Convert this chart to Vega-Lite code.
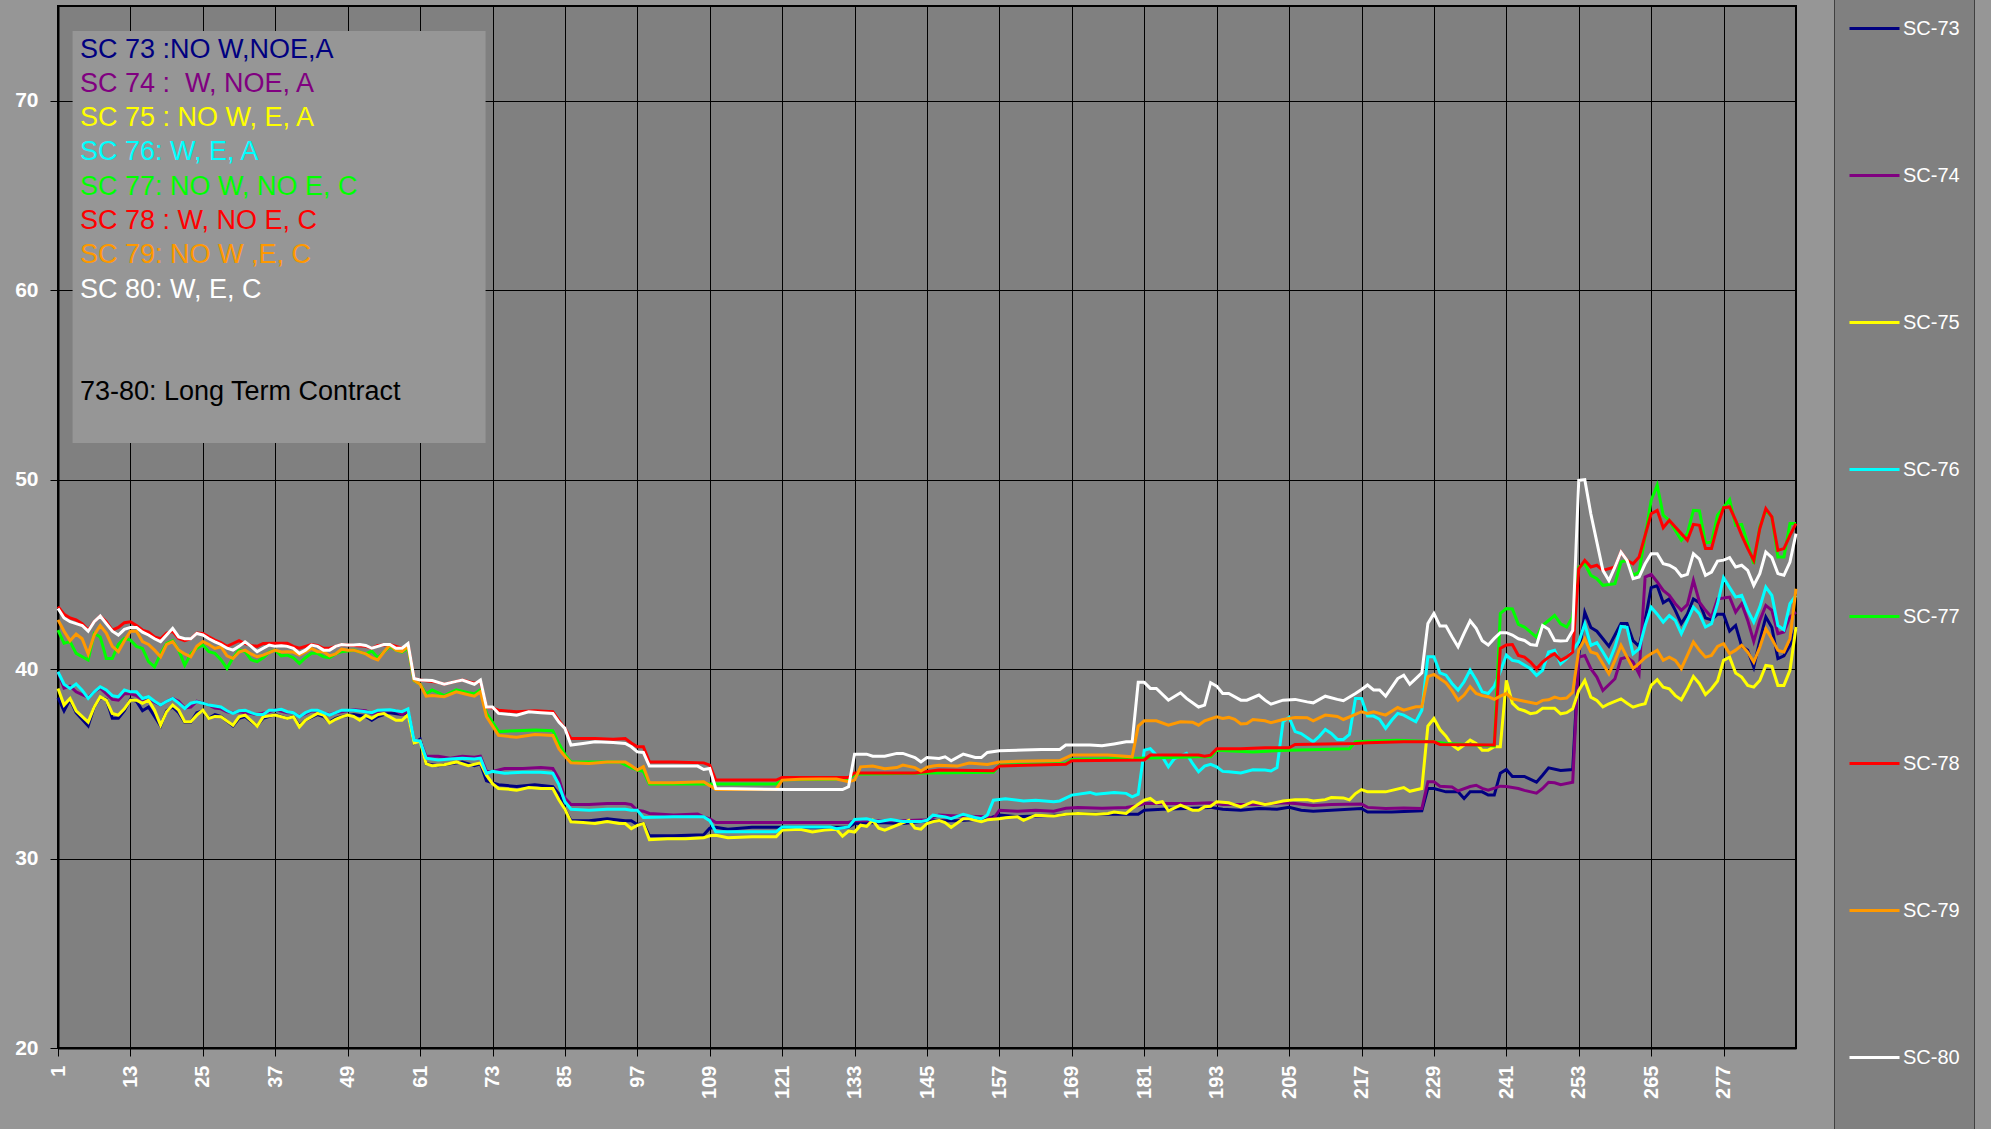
{
"$schema":"https://vega.github.io/schema/vega-lite/v6.json",
"width":1738,"height":1042,
"autosize":"none",
"padding":{"left":58,"top":6,"right":195,"bottom":81},
"background":"#969696",
"config":{
 "view":{"fill":"#808080","stroke":"#000000","strokeWidth":2},
 "font":"Liberation Sans",
 "axis":{"gridColor":"#000000","gridOpacity":1,"gridWidth":1,"tickColor":"#000000","tickSize":8,"tickWidth":1,"domainColor":"#000000","domainWidth":2,"labelColor":"#ffffff","labelFont":"Liberation Sans","labelFontWeight":"bold","labelFontSize":20}
},
"datasets":{
"notes":[
{"s":73,"t":"SC 73 :NO W,NOE,A","y":72.7},
{"s":74,"t":"SC 74 : \u00a0W, NOE, A","y":70.89},
{"s":75,"t":"SC 75 : NO W, E, A","y":69.08},
{"s":76,"t":"SC 76: W, E, A","y":67.27},
{"s":77,"t":"SC 77: NO W, NO E, C","y":65.46},
{"s":78,"t":"SC 78 : W, NO E, C","y":63.65},
{"s":79,"t":"SC 79: NO W ,E, C","y":61.84},
{"s":80,"t":"SC 80: W, E, C","y":60.03}
],
"series":[
{"s":73,"x":1,"y":38.5},{"s":73,"x":2,"y":37.8},{"s":73,"x":3,"y":38.4},{"s":73,"x":4,"y":37.7},{"s":73,"x":6,"y":37.0},{"s":73,"x":7,"y":38.0},{"s":73,"x":8,"y":38.5},{"s":73,"x":9,"y":38.4},{"s":73,"x":10,"y":37.4},{"s":73,"x":11,"y":37.4},{"s":73,"x":12,"y":37.8},{"s":73,"x":13,"y":38.4},{"s":73,"x":14,"y":38.3},{"s":73,"x":15,"y":37.8},{"s":73,"x":16,"y":38.0},{"s":73,"x":18,"y":37.0},{"s":73,"x":19,"y":37.8},{"s":73,"x":20,"y":38.0},{"s":73,"x":21,"y":37.7},{"s":73,"x":22,"y":37.2},{"s":73,"x":23,"y":37.2},{"s":73,"x":24,"y":37.7},{"s":73,"x":25,"y":37.8},{"s":73,"x":26,"y":37.4},{"s":73,"x":27,"y":37.6},{"s":73,"x":28,"y":37.5},{"s":73,"x":30,"y":37.0},{"s":73,"x":31,"y":37.4},{"s":73,"x":32,"y":37.5},{"s":73,"x":34,"y":37.0},{"s":73,"x":35,"y":37.4},{"s":73,"x":37,"y":37.6},{"s":73,"x":39,"y":37.4},{"s":73,"x":40,"y":37.5},{"s":73,"x":41,"y":37.0},{"s":73,"x":42,"y":37.3},{"s":73,"x":44,"y":37.6},{"s":73,"x":45,"y":37.5},{"s":73,"x":46,"y":37.2},{"s":73,"x":47,"y":37.4},{"s":73,"x":48,"y":37.5},{"s":73,"x":50,"y":37.6},{"s":73,"x":52,"y":37.5},{"s":73,"x":53,"y":37.3},{"s":73,"x":54,"y":37.5},{"s":73,"x":56,"y":37.7},{"s":73,"x":58,"y":37.6},{"s":73,"x":59,"y":37.7},{"s":73,"x":60,"y":36.1},{"s":73,"x":61,"y":36.3},{"s":73,"x":62,"y":35.0},{"s":73,"x":64,"y":34.9},{"s":73,"x":66,"y":35.0},{"s":73,"x":68,"y":35.1},{"s":73,"x":70,"y":34.9},{"s":73,"x":71,"y":35.0},{"s":73,"x":72,"y":34.1},{"s":73,"x":74,"y":33.9},{"s":73,"x":77,"y":33.8},{"s":73,"x":80,"y":33.9},{"s":73,"x":83,"y":33.8},{"s":73,"x":84,"y":33.4},{"s":73,"x":85,"y":32.6},{"s":73,"x":86,"y":32.0},{"s":73,"x":89,"y":32.0},{"s":73,"x":92,"y":32.1},{"s":73,"x":95,"y":32.0},{"s":73,"x":96,"y":32.0},{"s":73,"x":97,"y":31.8},{"s":73,"x":98,"y":31.85},{"s":73,"x":99,"y":31.2},{"s":73,"x":103,"y":31.2},{"s":73,"x":108,"y":31.25},{"s":73,"x":109,"y":31.6},{"s":73,"x":110,"y":31.65},{"s":73,"x":112,"y":31.55},{"s":73,"x":116,"y":31.65},{"s":73,"x":132,"y":31.65},{"s":73,"x":133,"y":31.85},{"s":73,"x":137,"y":31.9},{"s":73,"x":141,"y":31.85},{"s":73,"x":145,"y":32.0},{"s":73,"x":150,"y":32.0},{"s":73,"x":155,"y":32.1},{"s":73,"x":157,"y":32.3},{"s":73,"x":160,"y":32.2},{"s":73,"x":163,"y":32.25},{"s":73,"x":167,"y":32.3},{"s":73,"x":170,"y":32.38},{"s":73,"x":175,"y":32.34},{"s":73,"x":180,"y":32.34},{"s":73,"x":181,"y":32.55},{"s":73,"x":184,"y":32.6},{"s":73,"x":188,"y":32.64},{"s":73,"x":192,"y":32.7},{"s":73,"x":194,"y":32.6},{"s":73,"x":197,"y":32.55},{"s":73,"x":200,"y":32.64},{"s":73,"x":203,"y":32.6},{"s":73,"x":205,"y":32.7},{"s":73,"x":207,"y":32.55},{"s":73,"x":209,"y":32.5},{"s":73,"x":212,"y":32.55},{"s":73,"x":217,"y":32.64},{"s":73,"x":218,"y":32.46},{"s":73,"x":222,"y":32.46},{"s":73,"x":227,"y":32.52},{"s":73,"x":228,"y":33.7},{"s":73,"x":229,"y":33.7},{"s":73,"x":231,"y":33.52},{"s":73,"x":233,"y":33.52},{"s":73,"x":234,"y":33.17},{"s":73,"x":235,"y":33.52},{"s":73,"x":237,"y":33.52},{"s":73,"x":238,"y":33.35},{"s":73,"x":239,"y":33.35},{"s":73,"x":240,"y":34.5},{"s":73,"x":241,"y":34.7},{"s":73,"x":242,"y":34.33},{"s":73,"x":244,"y":34.33},{"s":73,"x":246,"y":34.03},{"s":73,"x":247,"y":34.4},{"s":73,"x":248,"y":34.79},{"s":73,"x":250,"y":34.65},{"s":73,"x":252,"y":34.7},{"s":73,"x":253,"y":40.7},{"s":73,"x":254,"y":43.0},{"s":73,"x":255,"y":42.2},{"s":73,"x":256,"y":42.0},{"s":73,"x":257,"y":41.6},{"s":73,"x":258,"y":41.2},{"s":73,"x":259,"y":41.8},{"s":73,"x":260,"y":42.4},{"s":73,"x":261,"y":42.4},{"s":73,"x":262,"y":41.5},{"s":73,"x":263,"y":41.2},{"s":73,"x":264,"y":42.6},{"s":73,"x":265,"y":44.3},{"s":73,"x":266,"y":44.4},{"s":73,"x":267,"y":43.5},{"s":73,"x":268,"y":43.7},{"s":73,"x":269,"y":43.1},{"s":73,"x":270,"y":42.4},{"s":73,"x":271,"y":42.9},{"s":73,"x":272,"y":43.7},{"s":73,"x":273,"y":43.5},{"s":73,"x":274,"y":42.7},{"s":73,"x":275,"y":42.6},{"s":73,"x":276,"y":42.9},{"s":73,"x":277,"y":42.9},{"s":73,"x":278,"y":42.0},{"s":73,"x":279,"y":42.3},{"s":73,"x":280,"y":41.2},{"s":73,"x":281,"y":41.0},{"s":73,"x":282,"y":40.1},{"s":73,"x":283,"y":41.5},{"s":73,"x":284,"y":42.75},{"s":73,"x":285,"y":42.2},{"s":73,"x":286,"y":40.55},{"s":73,"x":287,"y":40.7},{"s":73,"x":288,"y":41.25},{"s":73,"x":289,"y":42.2},
{"s":74,"x":1,"y":39.86},{"s":74,"x":2,"y":39.0},{"s":74,"x":3,"y":39.1},{"s":74,"x":4,"y":38.8},{"s":74,"x":6,"y":38.5},{"s":74,"x":7,"y":38.8},{"s":74,"x":8,"y":39.0},{"s":74,"x":9,"y":38.7},{"s":74,"x":10,"y":38.4},{"s":74,"x":11,"y":38.36},{"s":74,"x":12,"y":38.7},{"s":74,"x":13,"y":38.7},{"s":74,"x":14,"y":38.6},{"s":74,"x":15,"y":38.4},{"s":74,"x":16,"y":38.4},{"s":74,"x":18,"y":38.1},{"s":74,"x":19,"y":38.3},{"s":74,"x":20,"y":38.45},{"s":74,"x":21,"y":38.3},{"s":74,"x":22,"y":37.95},{"s":74,"x":23,"y":38.0},{"s":74,"x":24,"y":38.3},{"s":74,"x":25,"y":38.2},{"s":74,"x":26,"y":38.1},{"s":74,"x":27,"y":37.95},{"s":74,"x":28,"y":37.9},{"s":74,"x":29,"y":37.75},{"s":74,"x":30,"y":37.7},{"s":74,"x":31,"y":37.75},{"s":74,"x":33,"y":37.65},{"s":74,"x":34,"y":37.6},{"s":74,"x":36,"y":37.75},{"s":74,"x":37,"y":37.85},{"s":74,"x":39,"y":37.7},{"s":74,"x":40,"y":37.7},{"s":74,"x":41,"y":37.5},{"s":74,"x":43,"y":37.8},{"s":74,"x":44,"y":37.75},{"s":74,"x":46,"y":37.6},{"s":74,"x":47,"y":37.7},{"s":74,"x":49,"y":37.8},{"s":74,"x":50,"y":37.85},{"s":74,"x":52,"y":37.8},{"s":74,"x":53,"y":37.65},{"s":74,"x":55,"y":37.8},{"s":74,"x":57,"y":37.8},{"s":74,"x":58,"y":37.6},{"s":74,"x":59,"y":37.8},{"s":74,"x":60,"y":36.25},{"s":74,"x":61,"y":36.2},{"s":74,"x":62,"y":35.4},{"s":74,"x":64,"y":35.4},{"s":74,"x":66,"y":35.3},{"s":74,"x":68,"y":35.4},{"s":74,"x":70,"y":35.35},{"s":74,"x":71,"y":35.4},{"s":74,"x":72,"y":34.6},{"s":74,"x":73,"y":34.6},{"s":74,"x":75,"y":34.75},{"s":74,"x":78,"y":34.75},{"s":74,"x":81,"y":34.8},{"s":74,"x":83,"y":34.75},{"s":74,"x":84,"y":34.2},{"s":74,"x":85,"y":33.2},{"s":74,"x":86,"y":32.85},{"s":74,"x":89,"y":32.85},{"s":74,"x":92,"y":32.9},{"s":74,"x":95,"y":32.9},{"s":74,"x":96,"y":32.85},{"s":74,"x":97,"y":32.55},{"s":74,"x":98,"y":32.5},{"s":74,"x":99,"y":32.38},{"s":74,"x":103,"y":32.3},{"s":74,"x":107,"y":32.35},{"s":74,"x":108,"y":32.2},{"s":74,"x":109,"y":32.1},{"s":74,"x":110,"y":31.9},{"s":74,"x":132,"y":31.9},{"s":74,"x":133,"y":32.0},{"s":74,"x":141,"y":32.0},{"s":74,"x":145,"y":32.05},{"s":74,"x":147,"y":32.3},{"s":74,"x":150,"y":32.25},{"s":74,"x":155,"y":32.2},{"s":74,"x":156,"y":32.1},{"s":74,"x":157,"y":32.55},{"s":74,"x":160,"y":32.5},{"s":74,"x":163,"y":32.55},{"s":74,"x":166,"y":32.5},{"s":74,"x":168,"y":32.65},{"s":74,"x":170,"y":32.7},{"s":74,"x":174,"y":32.65},{"s":74,"x":178,"y":32.7},{"s":74,"x":180,"y":32.8},{"s":74,"x":181,"y":32.9},{"s":74,"x":185,"y":32.9},{"s":74,"x":189,"y":32.9},{"s":74,"x":192,"y":32.95},{"s":74,"x":194,"y":32.85},{"s":74,"x":197,"y":32.85},{"s":74,"x":200,"y":32.85},{"s":74,"x":204,"y":32.95},{"s":74,"x":206,"y":32.9},{"s":74,"x":209,"y":32.8},{"s":74,"x":212,"y":32.85},{"s":74,"x":217,"y":32.88},{"s":74,"x":218,"y":32.7},{"s":74,"x":221,"y":32.64},{"s":74,"x":224,"y":32.67},{"s":74,"x":227,"y":32.64},{"s":74,"x":228,"y":34.05},{"s":74,"x":229,"y":34.05},{"s":74,"x":230,"y":33.82},{"s":74,"x":232,"y":33.78},{"s":74,"x":233,"y":33.57},{"s":74,"x":235,"y":33.8},{"s":74,"x":236,"y":33.87},{"s":74,"x":237,"y":33.7},{"s":74,"x":238,"y":33.61},{"s":74,"x":240,"y":33.82},{"s":74,"x":241,"y":33.8},{"s":74,"x":243,"y":33.7},{"s":74,"x":244,"y":33.6},{"s":74,"x":246,"y":33.45},{"s":74,"x":247,"y":33.7},{"s":74,"x":248,"y":34.03},{"s":74,"x":249,"y":34.0},{"s":74,"x":250,"y":33.9},{"s":74,"x":252,"y":34.03},{"s":74,"x":253,"y":40.63},{"s":74,"x":254,"y":40.72},{"s":74,"x":255,"y":40.02},{"s":74,"x":256,"y":39.58},{"s":74,"x":257,"y":38.87},{"s":74,"x":259,"y":39.49},{"s":74,"x":260,"y":40.55},{"s":74,"x":261,"y":40.63},{"s":74,"x":262,"y":40.37},{"s":74,"x":263,"y":39.74},{"s":74,"x":264,"y":44.86},{"s":74,"x":265,"y":45.0},{"s":74,"x":266,"y":44.6},{"s":74,"x":267,"y":44.15},{"s":74,"x":268,"y":43.89},{"s":74,"x":269,"y":43.45},{"s":74,"x":270,"y":43.1},{"s":74,"x":271,"y":43.4},{"s":74,"x":272,"y":44.68},{"s":74,"x":273,"y":43.54},{"s":74,"x":274,"y":43.1},{"s":74,"x":275,"y":42.75},{"s":74,"x":276,"y":43.71},{"s":74,"x":277,"y":43.75},{"s":74,"x":278,"y":43.8},{"s":74,"x":279,"y":43.01},{"s":74,"x":280,"y":43.45},{"s":74,"x":281,"y":42.57},{"s":74,"x":282,"y":41.46},{"s":74,"x":283,"y":42.57},{"s":74,"x":284,"y":43.36},{"s":74,"x":285,"y":43.1},{"s":74,"x":286,"y":41.87},{"s":74,"x":287,"y":41.96},{"s":74,"x":288,"y":42.75},{"s":74,"x":289,"y":43.01},
{"s":75,"x":1,"y":38.98},{"s":75,"x":2,"y":38.1},{"s":75,"x":3,"y":38.45},{"s":75,"x":4,"y":37.8},{"s":75,"x":6,"y":37.2},{"s":75,"x":7,"y":38.0},{"s":75,"x":8,"y":38.54},{"s":75,"x":9,"y":38.36},{"s":75,"x":10,"y":37.66},{"s":75,"x":11,"y":37.57},{"s":75,"x":12,"y":37.9},{"s":75,"x":13,"y":38.36},{"s":75,"x":14,"y":38.36},{"s":75,"x":15,"y":38.19},{"s":75,"x":16,"y":38.36},{"s":75,"x":17,"y":37.83},{"s":75,"x":18,"y":37.04},{"s":75,"x":19,"y":37.75},{"s":75,"x":20,"y":38.1},{"s":75,"x":21,"y":37.83},{"s":75,"x":22,"y":37.22},{"s":75,"x":23,"y":37.22},{"s":75,"x":24,"y":37.57},{"s":75,"x":25,"y":37.83},{"s":75,"x":26,"y":37.39},{"s":75,"x":27,"y":37.5},{"s":75,"x":28,"y":37.48},{"s":75,"x":30,"y":37.04},{"s":75,"x":31,"y":37.48},{"s":75,"x":32,"y":37.57},{"s":75,"x":34,"y":36.99},{"s":75,"x":35,"y":37.48},{"s":75,"x":37,"y":37.57},{"s":75,"x":39,"y":37.39},{"s":75,"x":40,"y":37.48},{"s":75,"x":41,"y":36.95},{"s":75,"x":42,"y":37.3},{"s":75,"x":44,"y":37.66},{"s":75,"x":45,"y":37.57},{"s":75,"x":46,"y":37.17},{"s":75,"x":47,"y":37.35},{"s":75,"x":48,"y":37.48},{"s":75,"x":49,"y":37.57},{"s":75,"x":50,"y":37.5},{"s":75,"x":51,"y":37.3},{"s":75,"x":52,"y":37.55},{"s":75,"x":53,"y":37.4},{"s":75,"x":54,"y":37.6},{"s":75,"x":55,"y":37.65},{"s":75,"x":57,"y":37.3},{"s":75,"x":58,"y":37.3},{"s":75,"x":59,"y":37.6},{"s":75,"x":60,"y":36.1},{"s":75,"x":61,"y":36.2},{"s":75,"x":62,"y":35.0},{"s":75,"x":63,"y":34.9},{"s":75,"x":65,"y":34.95},{"s":75,"x":67,"y":35.1},{"s":75,"x":69,"y":34.9},{"s":75,"x":71,"y":35.05},{"s":75,"x":72,"y":34.4},{"s":75,"x":73,"y":33.95},{"s":75,"x":74,"y":33.7},{"s":75,"x":76,"y":33.65},{"s":75,"x":77,"y":33.6},{"s":75,"x":79,"y":33.75},{"s":75,"x":81,"y":33.7},{"s":75,"x":83,"y":33.7},{"s":75,"x":84,"y":33.1},{"s":75,"x":85,"y":32.6},{"s":75,"x":86,"y":31.94},{"s":75,"x":88,"y":31.9},{"s":75,"x":90,"y":31.85},{"s":75,"x":92,"y":31.95},{"s":75,"x":94,"y":31.85},{"s":75,"x":95,"y":31.85},{"s":75,"x":96,"y":31.58},{"s":75,"x":97,"y":31.75},{"s":75,"x":98,"y":31.85},{"s":75,"x":99,"y":31.0},{"s":75,"x":102,"y":31.05},{"s":75,"x":105,"y":31.05},{"s":75,"x":108,"y":31.1},{"s":75,"x":109,"y":31.2},{"s":75,"x":110,"y":31.23},{"s":75,"x":112,"y":31.1},{"s":75,"x":116,"y":31.15},{"s":75,"x":120,"y":31.15},{"s":75,"x":121,"y":31.5},{"s":75,"x":124,"y":31.55},{"s":75,"x":126,"y":31.4},{"s":75,"x":128,"y":31.5},{"s":75,"x":130,"y":31.55},{"s":75,"x":131,"y":31.18},{"s":75,"x":132,"y":31.45},{"s":75,"x":133,"y":31.4},{"s":75,"x":134,"y":31.76},{"s":75,"x":135,"y":31.7},{"s":75,"x":136,"y":32.02},{"s":75,"x":137,"y":31.6},{"s":75,"x":138,"y":31.5},{"s":75,"x":142,"y":32.02},{"s":75,"x":143,"y":31.6},{"s":75,"x":144,"y":31.55},{"s":75,"x":145,"y":31.85},{"s":75,"x":146,"y":31.95},{"s":75,"x":147,"y":32.0},{"s":75,"x":148,"y":31.9},{"s":75,"x":149,"y":31.64},{"s":75,"x":151,"y":32.1},{"s":75,"x":152,"y":32.1},{"s":75,"x":154,"y":31.95},{"s":75,"x":155,"y":32.05},{"s":75,"x":157,"y":32.1},{"s":75,"x":158,"y":32.15},{"s":75,"x":160,"y":32.2},{"s":75,"x":161,"y":32.02},{"s":75,"x":163,"y":32.29},{"s":75,"x":166,"y":32.24},{"s":75,"x":168,"y":32.34},{"s":75,"x":170,"y":32.38},{"s":75,"x":173,"y":32.34},{"s":75,"x":175,"y":32.38},{"s":75,"x":176,"y":32.46},{"s":75,"x":178,"y":32.38},{"s":75,"x":179,"y":32.64},{"s":75,"x":181,"y":33.08},{"s":75,"x":182,"y":33.17},{"s":75,"x":183,"y":32.94},{"s":75,"x":184,"y":33.0},{"s":75,"x":185,"y":32.52},{"s":75,"x":187,"y":32.82},{"s":75,"x":189,"y":32.55},{"s":75,"x":190,"y":32.55},{"s":75,"x":191,"y":32.73},{"s":75,"x":192,"y":32.76},{"s":75,"x":193,"y":33.0},{"s":75,"x":195,"y":32.94},{"s":75,"x":197,"y":32.73},{"s":75,"x":199,"y":33.0},{"s":75,"x":201,"y":32.85},{"s":75,"x":202,"y":32.9},{"s":75,"x":204,"y":33.04},{"s":75,"x":206,"y":33.11},{"s":75,"x":208,"y":33.11},{"s":75,"x":209,"y":33.04},{"s":75,"x":211,"y":33.11},{"s":75,"x":212,"y":33.22},{"s":75,"x":214,"y":33.2},{"s":75,"x":215,"y":33.1},{"s":75,"x":216,"y":33.43},{"s":75,"x":217,"y":33.64},{"s":75,"x":218,"y":33.52},{"s":75,"x":221,"y":33.52},{"s":75,"x":224,"y":33.75},{"s":75,"x":225,"y":33.55},{"s":75,"x":227,"y":33.7},{"s":75,"x":228,"y":36.99},{"s":75,"x":229,"y":37.39},{"s":75,"x":230,"y":36.81},{"s":75,"x":231,"y":36.46},{"s":75,"x":232,"y":35.99},{"s":75,"x":233,"y":35.76},{"s":75,"x":234,"y":35.99},{"s":75,"x":235,"y":36.25},{"s":75,"x":236,"y":36.07},{"s":75,"x":237,"y":35.72},{"s":75,"x":238,"y":35.72},{"s":75,"x":239,"y":35.9},{"s":75,"x":240,"y":35.9},{"s":75,"x":241,"y":39.4},{"s":75,"x":242,"y":38.2},{"s":75,"x":243,"y":37.9},{"s":75,"x":244,"y":37.8},{"s":75,"x":245,"y":37.65},{"s":75,"x":246,"y":37.7},{"s":75,"x":247,"y":37.93},{"s":75,"x":249,"y":37.93},{"s":75,"x":250,"y":37.64},{"s":75,"x":251,"y":37.7},{"s":75,"x":252,"y":37.9},{"s":75,"x":253,"y":38.87},{"s":75,"x":254,"y":39.4},{"s":75,"x":255,"y":38.52},{"s":75,"x":256,"y":38.34},{"s":75,"x":257,"y":38.0},{"s":75,"x":258,"y":38.17},{"s":75,"x":260,"y":38.43},{"s":75,"x":261,"y":38.2},{"s":75,"x":262,"y":37.99},{"s":75,"x":263,"y":38.1},{"s":75,"x":264,"y":38.17},{"s":75,"x":265,"y":39.14},{"s":75,"x":266,"y":39.44},{"s":75,"x":267,"y":39.05},{"s":75,"x":268,"y":38.96},{"s":75,"x":269,"y":38.6},{"s":75,"x":270,"y":38.38},{"s":75,"x":271,"y":38.96},{"s":75,"x":272,"y":39.61},{"s":75,"x":273,"y":39.23},{"s":75,"x":274,"y":38.66},{"s":75,"x":275,"y":38.96},{"s":75,"x":276,"y":39.37},{"s":75,"x":277,"y":40.46},{"s":75,"x":278,"y":40.63},{"s":75,"x":279,"y":39.79},{"s":75,"x":280,"y":39.58},{"s":75,"x":281,"y":39.14},{"s":75,"x":282,"y":39.05},{"s":75,"x":283,"y":39.4},{"s":75,"x":284,"y":40.19},{"s":75,"x":285,"y":40.14},{"s":75,"x":286,"y":39.14},{"s":75,"x":287,"y":39.14},{"s":75,"x":288,"y":39.93},{"s":75,"x":289,"y":42.22},
{"s":76,"x":1,"y":39.86},{"s":76,"x":2,"y":39.2},{"s":76,"x":3,"y":38.98},{"s":76,"x":4,"y":39.21},{"s":76,"x":5,"y":38.89},{"s":76,"x":6,"y":38.45},{"s":76,"x":7,"y":38.8},{"s":76,"x":8,"y":39.07},{"s":76,"x":9,"y":38.9},{"s":76,"x":10,"y":38.6},{"s":76,"x":11,"y":38.54},{"s":76,"x":12,"y":38.9},{"s":76,"x":13,"y":38.8},{"s":76,"x":14,"y":38.8},{"s":76,"x":15,"y":38.45},{"s":76,"x":16,"y":38.54},{"s":76,"x":17,"y":38.3},{"s":76,"x":18,"y":38.1},{"s":76,"x":19,"y":38.3},{"s":76,"x":20,"y":38.45},{"s":76,"x":21,"y":38.2},{"s":76,"x":22,"y":37.92},{"s":76,"x":23,"y":38.2},{"s":76,"x":24,"y":38.27},{"s":76,"x":25,"y":38.2},{"s":76,"x":26,"y":38.1},{"s":76,"x":28,"y":38.0},{"s":76,"x":29,"y":37.8},{"s":76,"x":30,"y":37.66},{"s":76,"x":31,"y":37.8},{"s":76,"x":32,"y":37.83},{"s":76,"x":33,"y":37.7},{"s":76,"x":34,"y":37.6},{"s":76,"x":35,"y":37.6},{"s":76,"x":36,"y":37.83},{"s":76,"x":37,"y":37.83},{"s":76,"x":38,"y":37.88},{"s":76,"x":39,"y":37.75},{"s":76,"x":40,"y":37.7},{"s":76,"x":41,"y":37.48},{"s":76,"x":42,"y":37.7},{"s":76,"x":43,"y":37.83},{"s":76,"x":44,"y":37.83},{"s":76,"x":46,"y":37.57},{"s":76,"x":47,"y":37.7},{"s":76,"x":48,"y":37.83},{"s":76,"x":49,"y":37.83},{"s":76,"x":50,"y":37.83},{"s":76,"x":52,"y":37.75},{"s":76,"x":53,"y":37.7},{"s":76,"x":54,"y":37.83},{"s":76,"x":56,"y":37.85},{"s":76,"x":58,"y":37.75},{"s":76,"x":59,"y":37.9},{"s":76,"x":60,"y":36.25},{"s":76,"x":61,"y":36.2},{"s":76,"x":62,"y":35.3},{"s":76,"x":64,"y":35.2},{"s":76,"x":66,"y":35.25},{"s":76,"x":68,"y":35.3},{"s":76,"x":70,"y":35.25},{"s":76,"x":71,"y":35.3},{"s":76,"x":72,"y":34.5},{"s":76,"x":73,"y":34.6},{"s":76,"x":75,"y":34.5},{"s":76,"x":78,"y":34.55},{"s":76,"x":81,"y":34.55},{"s":76,"x":83,"y":34.5},{"s":76,"x":84,"y":33.9},{"s":76,"x":85,"y":33.0},{"s":76,"x":86,"y":32.6},{"s":76,"x":89,"y":32.55},{"s":76,"x":92,"y":32.6},{"s":76,"x":95,"y":32.6},{"s":76,"x":96,"y":32.55},{"s":76,"x":97,"y":32.55},{"s":76,"x":98,"y":32.17},{"s":76,"x":103,"y":32.2},{"s":76,"x":108,"y":32.2},{"s":76,"x":109,"y":32.0},{"s":76,"x":110,"y":31.41},{"s":76,"x":120,"y":31.41},{"s":76,"x":121,"y":31.67},{"s":76,"x":129,"y":31.67},{"s":76,"x":130,"y":31.58},{"s":76,"x":132,"y":31.67},{"s":76,"x":133,"y":32.06},{"s":76,"x":135,"y":32.1},{"s":76,"x":137,"y":31.95},{"s":76,"x":139,"y":32.06},{"s":76,"x":141,"y":31.95},{"s":76,"x":144,"y":31.95},{"s":76,"x":145,"y":32.02},{"s":76,"x":146,"y":32.29},{"s":76,"x":148,"y":32.2},{"s":76,"x":149,"y":32.1},{"s":76,"x":151,"y":32.34},{"s":76,"x":153,"y":32.17},{"s":76,"x":154,"y":32.1},{"s":76,"x":155,"y":32.29},{"s":76,"x":156,"y":33.08},{"s":76,"x":158,"y":33.16},{"s":76,"x":161,"y":33.04},{"s":76,"x":163,"y":33.08},{"s":76,"x":166,"y":33.0},{"s":76,"x":167,"y":33.04},{"s":76,"x":169,"y":33.35},{"s":76,"x":172,"y":33.49},{"s":76,"x":173,"y":33.4},{"s":76,"x":176,"y":33.49},{"s":76,"x":178,"y":33.44},{"s":76,"x":179,"y":33.26},{"s":76,"x":180,"y":33.4},{"s":76,"x":181,"y":35.72},{"s":76,"x":182,"y":35.8},{"s":76,"x":183,"y":35.46},{"s":76,"x":184,"y":35.37},{"s":76,"x":185,"y":34.84},{"s":76,"x":186,"y":35.28},{"s":76,"x":188,"y":35.55},{"s":76,"x":189,"y":35.02},{"s":76,"x":190,"y":34.58},{"s":76,"x":191,"y":34.88},{"s":76,"x":192,"y":34.97},{"s":76,"x":193,"y":34.84},{"s":76,"x":194,"y":34.6},{"s":76,"x":195,"y":34.58},{"s":76,"x":197,"y":34.52},{"s":76,"x":199,"y":34.69},{"s":76,"x":201,"y":34.67},{"s":76,"x":202,"y":34.62},{"s":76,"x":203,"y":34.8},{"s":76,"x":204,"y":37.22},{"s":76,"x":205,"y":37.45},{"s":76,"x":206,"y":36.7},{"s":76,"x":207,"y":36.6},{"s":76,"x":209,"y":36.16},{"s":76,"x":210,"y":36.45},{"s":76,"x":211,"y":36.81},{"s":76,"x":212,"y":36.6},{"s":76,"x":213,"y":36.29},{"s":76,"x":214,"y":36.29},{"s":76,"x":215,"y":36.55},{"s":76,"x":216,"y":38.45},{"s":76,"x":217,"y":38.45},{"s":76,"x":218,"y":37.52},{"s":76,"x":219,"y":37.52},{"s":76,"x":220,"y":37.35},{"s":76,"x":221,"y":36.87},{"s":76,"x":222,"y":37.3},{"s":76,"x":223,"y":37.66},{"s":76,"x":224,"y":37.57},{"s":76,"x":226,"y":37.22},{"s":76,"x":227,"y":37.83},{"s":76,"x":228,"y":40.65},{"s":76,"x":229,"y":40.65},{"s":76,"x":230,"y":39.8},{"s":76,"x":231,"y":39.68},{"s":76,"x":232,"y":39.24},{"s":76,"x":233,"y":38.89},{"s":76,"x":234,"y":39.33},{"s":76,"x":235,"y":39.95},{"s":76,"x":236,"y":39.42},{"s":76,"x":237,"y":38.8},{"s":76,"x":238,"y":38.71},{"s":76,"x":239,"y":39.1},{"s":76,"x":240,"y":39.86},{"s":76,"x":241,"y":40.74},{"s":76,"x":242,"y":40.46},{"s":76,"x":243,"y":40.4},{"s":76,"x":245,"y":40.02},{"s":76,"x":246,"y":39.67},{"s":76,"x":247,"y":39.93},{"s":76,"x":248,"y":40.9},{"s":76,"x":249,"y":40.99},{"s":76,"x":250,"y":40.28},{"s":76,"x":251,"y":40.55},{"s":76,"x":252,"y":40.99},{"s":76,"x":253,"y":41.43},{"s":76,"x":254,"y":42.39},{"s":76,"x":255,"y":41.25},{"s":76,"x":256,"y":41.4},{"s":76,"x":257,"y":40.9},{"s":76,"x":258,"y":40.37},{"s":76,"x":259,"y":41.16},{"s":76,"x":260,"y":42.25},{"s":76,"x":261,"y":42.2},{"s":76,"x":262,"y":40.81},{"s":76,"x":263,"y":41.07},{"s":76,"x":264,"y":42.3},{"s":76,"x":265,"y":43.27},{"s":76,"x":266,"y":42.9},{"s":76,"x":267,"y":42.48},{"s":76,"x":268,"y":42.83},{"s":76,"x":269,"y":42.57},{"s":76,"x":270,"y":41.87},{"s":76,"x":271,"y":42.57},{"s":76,"x":272,"y":43.27},{"s":76,"x":273,"y":42.92},{"s":76,"x":274,"y":42.22},{"s":76,"x":275,"y":42.39},{"s":76,"x":276,"y":43.45},{"s":76,"x":277,"y":44.82},{"s":76,"x":278,"y":44.3},{"s":76,"x":279,"y":43.8},{"s":76,"x":280,"y":43.89},{"s":76,"x":281,"y":43.1},{"s":76,"x":282,"y":42.48},{"s":76,"x":283,"y":43.27},{"s":76,"x":284,"y":44.33},{"s":76,"x":285,"y":43.89},{"s":76,"x":286,"y":42.3},{"s":76,"x":287,"y":42.08},{"s":76,"x":288,"y":43.45},{"s":76,"x":289,"y":43.89},
{"s":77,"x":1,"y":42.06},{"s":77,"x":2,"y":41.36},{"s":77,"x":3,"y":41.45},{"s":77,"x":4,"y":40.83},{"s":77,"x":6,"y":40.48},{"s":77,"x":7,"y":41.88},{"s":77,"x":8,"y":41.7},{"s":77,"x":9,"y":40.56},{"s":77,"x":10,"y":40.56},{"s":77,"x":11,"y":41.3},{"s":77,"x":12,"y":41.62},{"s":77,"x":13,"y":41.53},{"s":77,"x":14,"y":41.2},{"s":77,"x":15,"y":41.09},{"s":77,"x":16,"y":40.4},{"s":77,"x":17,"y":40.12},{"s":77,"x":18,"y":40.8},{"s":77,"x":19,"y":41.36},{"s":77,"x":20,"y":41.5},{"s":77,"x":21,"y":41.0},{"s":77,"x":22,"y":40.21},{"s":77,"x":23,"y":40.8},{"s":77,"x":24,"y":41.1},{"s":77,"x":25,"y":41.27},{"s":77,"x":26,"y":40.92},{"s":77,"x":27,"y":40.83},{"s":77,"x":28,"y":40.5},{"s":77,"x":29,"y":40.04},{"s":77,"x":30,"y":40.6},{"s":77,"x":31,"y":41.0},{"s":77,"x":32,"y":40.92},{"s":77,"x":33,"y":40.5},{"s":77,"x":34,"y":40.39},{"s":77,"x":35,"y":40.6},{"s":77,"x":36,"y":40.9},{"s":77,"x":37,"y":41.0},{"s":77,"x":38,"y":40.7},{"s":77,"x":39,"y":40.74},{"s":77,"x":40,"y":40.6},{"s":77,"x":41,"y":40.3},{"s":77,"x":42,"y":40.6},{"s":77,"x":43,"y":40.83},{"s":77,"x":44,"y":40.83},{"s":77,"x":45,"y":40.65},{"s":77,"x":46,"y":40.6},{"s":77,"x":47,"y":40.8},{"s":77,"x":48,"y":40.92},{"s":77,"x":49,"y":40.95},{"s":77,"x":50,"y":41.0},{"s":77,"x":52,"y":40.8},{"s":77,"x":53,"y":40.95},{"s":77,"x":54,"y":40.6},{"s":77,"x":55,"y":40.9},{"s":77,"x":56,"y":41.2},{"s":77,"x":57,"y":41.0},{"s":77,"x":58,"y":40.9},{"s":77,"x":59,"y":41.1},{"s":77,"x":60,"y":39.4},{"s":77,"x":61,"y":39.2},{"s":77,"x":62,"y":38.7},{"s":77,"x":63,"y":38.9},{"s":77,"x":65,"y":38.6},{"s":77,"x":67,"y":38.9},{"s":77,"x":69,"y":38.75},{"s":77,"x":70,"y":38.7},{"s":77,"x":71,"y":38.9},{"s":77,"x":72,"y":37.66},{"s":77,"x":73,"y":37.2},{"s":77,"x":74,"y":36.7},{"s":77,"x":77,"y":36.75},{"s":77,"x":80,"y":36.78},{"s":77,"x":83,"y":36.75},{"s":77,"x":84,"y":36.07},{"s":77,"x":85,"y":35.5},{"s":77,"x":86,"y":35.1},{"s":77,"x":90,"y":35.1},{"s":77,"x":94,"y":35.1},{"s":77,"x":96,"y":34.8},{"s":77,"x":97,"y":34.67},{"s":77,"x":98,"y":34.6},{"s":77,"x":99,"y":33.93},{"s":77,"x":120,"y":33.93},{"s":77,"x":121,"y":34.16},{"s":77,"x":132,"y":34.2},{"s":77,"x":133,"y":34.45},{"s":77,"x":145,"y":34.52},{"s":77,"x":156,"y":34.55},{"s":77,"x":157,"y":34.93},{"s":77,"x":168,"y":35.02},{"s":77,"x":169,"y":35.23},{"s":77,"x":180,"y":35.3},{"s":77,"x":190,"y":35.37},{"s":77,"x":192,"y":35.37},{"s":77,"x":193,"y":35.72},{"s":77,"x":199,"y":35.63},{"s":77,"x":205,"y":35.72},{"s":77,"x":215,"y":35.8},{"s":77,"x":216,"y":36.16},{"s":77,"x":223,"y":36.25},{"s":77,"x":229,"y":36.16},{"s":77,"x":231,"y":36.07},{"s":77,"x":239,"y":35.95},{"s":77,"x":240,"y":42.94},{"s":77,"x":241,"y":43.2},{"s":77,"x":242,"y":43.18},{"s":77,"x":243,"y":42.36},{"s":77,"x":244,"y":42.22},{"s":77,"x":246,"y":41.69},{"s":77,"x":247,"y":42.3},{"s":77,"x":249,"y":42.83},{"s":77,"x":250,"y":42.39},{"s":77,"x":251,"y":42.22},{"s":77,"x":252,"y":42.75},{"s":77,"x":253,"y":45.39},{"s":77,"x":254,"y":45.56},{"s":77,"x":255,"y":44.95},{"s":77,"x":256,"y":44.77},{"s":77,"x":257,"y":44.42},{"s":77,"x":259,"y":44.51},{"s":77,"x":260,"y":45.65},{"s":77,"x":261,"y":45.74},{"s":77,"x":262,"y":44.95},{"s":77,"x":263,"y":45.12},{"s":77,"x":265,"y":48.91},{"s":77,"x":266,"y":49.7},{"s":77,"x":267,"y":48.12},{"s":77,"x":268,"y":47.85},{"s":77,"x":270,"y":46.8},{"s":77,"x":271,"y":47.15},{"s":77,"x":272,"y":48.38},{"s":77,"x":273,"y":48.35},{"s":77,"x":274,"y":46.66},{"s":77,"x":275,"y":46.7},{"s":77,"x":276,"y":48.12},{"s":77,"x":278,"y":48.94},{"s":77,"x":279,"y":47.59},{"s":77,"x":280,"y":47.64},{"s":77,"x":281,"y":46.62},{"s":77,"x":282,"y":45.56},{"s":77,"x":283,"y":47.5},{"s":77,"x":284,"y":48.38},{"s":77,"x":285,"y":48.03},{"s":77,"x":286,"y":45.92},{"s":77,"x":287,"y":45.92},{"s":77,"x":288,"y":47.68},{"s":77,"x":289,"y":47.68},
{"s":78,"x":1,"y":43.3},{"s":78,"x":2,"y":42.9},{"s":78,"x":3,"y":42.7},{"s":78,"x":4,"y":42.6},{"s":78,"x":5,"y":42.4},{"s":78,"x":6,"y":42.06},{"s":78,"x":7,"y":42.5},{"s":78,"x":8,"y":42.8},{"s":78,"x":9,"y":42.5},{"s":78,"x":10,"y":42.06},{"s":78,"x":11,"y":42.2},{"s":78,"x":12,"y":42.45},{"s":78,"x":13,"y":42.5},{"s":78,"x":14,"y":42.3},{"s":78,"x":15,"y":42.06},{"s":78,"x":16,"y":41.95},{"s":78,"x":17,"y":41.7},{"s":78,"x":18,"y":41.6},{"s":78,"x":19,"y":41.9},{"s":78,"x":20,"y":42.0},{"s":78,"x":21,"y":41.62},{"s":78,"x":22,"y":41.5},{"s":78,"x":23,"y":41.6},{"s":78,"x":24,"y":41.9},{"s":78,"x":25,"y":41.88},{"s":78,"x":26,"y":41.7},{"s":78,"x":27,"y":41.53},{"s":78,"x":28,"y":41.4},{"s":78,"x":29,"y":41.2},{"s":78,"x":30,"y":41.35},{"s":78,"x":31,"y":41.5},{"s":78,"x":32,"y":41.35},{"s":78,"x":33,"y":41.25},{"s":78,"x":34,"y":41.2},{"s":78,"x":35,"y":41.35},{"s":78,"x":37,"y":41.36},{"s":78,"x":39,"y":41.36},{"s":78,"x":40,"y":41.2},{"s":78,"x":41,"y":41.1},{"s":78,"x":42,"y":41.2},{"s":78,"x":43,"y":41.3},{"s":78,"x":44,"y":41.25},{"s":78,"x":45,"y":41.1},{"s":78,"x":46,"y":41.1},{"s":78,"x":47,"y":41.2},{"s":78,"x":48,"y":41.3},{"s":78,"x":49,"y":41.27},{"s":78,"x":50,"y":41.25},{"s":78,"x":52,"y":41.2},{"s":78,"x":53,"y":41.1},{"s":78,"x":54,"y":41.25},{"s":78,"x":56,"y":41.3},{"s":78,"x":58,"y":41.1},{"s":78,"x":59,"y":41.3},{"s":78,"x":60,"y":39.5},{"s":78,"x":61,"y":39.42},{"s":78,"x":64,"y":39.3},{"s":78,"x":65,"y":39.2},{"s":78,"x":67,"y":39.35},{"s":78,"x":68,"y":39.42},{"s":78,"x":70,"y":39.25},{"s":78,"x":71,"y":39.35},{"s":78,"x":72,"y":38.0},{"s":78,"x":73,"y":37.95},{"s":78,"x":74,"y":37.83},{"s":78,"x":77,"y":37.75},{"s":78,"x":80,"y":37.8},{"s":78,"x":83,"y":37.75},{"s":78,"x":84,"y":37.3},{"s":78,"x":85,"y":36.87},{"s":78,"x":86,"y":36.34},{"s":78,"x":90,"y":36.34},{"s":78,"x":93,"y":36.3},{"s":78,"x":95,"y":36.34},{"s":78,"x":96,"y":36.1},{"s":78,"x":97,"y":35.9},{"s":78,"x":98,"y":35.9},{"s":78,"x":99,"y":35.1},{"s":78,"x":103,"y":35.1},{"s":78,"x":108,"y":35.05},{"s":78,"x":109,"y":34.93},{"s":78,"x":110,"y":34.14},{"s":78,"x":120,"y":34.14},{"s":78,"x":121,"y":34.28},{"s":78,"x":132,"y":34.28},{"s":78,"x":133,"y":34.52},{"s":78,"x":143,"y":34.52},{"s":78,"x":145,"y":34.6},{"s":78,"x":147,"y":34.67},{"s":78,"x":156,"y":34.64},{"s":78,"x":157,"y":34.88},{"s":78,"x":168,"y":34.98},{"s":78,"x":169,"y":35.16},{"s":78,"x":181,"y":35.2},{"s":78,"x":182,"y":35.46},{"s":78,"x":190,"y":35.46},{"s":78,"x":191,"y":35.4},{"s":78,"x":192,"y":35.46},{"s":78,"x":193,"y":35.8},{"s":78,"x":197,"y":35.8},{"s":78,"x":201,"y":35.85},{"s":78,"x":205,"y":35.85},{"s":78,"x":206,"y":36.02},{"s":78,"x":216,"y":36.07},{"s":78,"x":218,"y":36.11},{"s":78,"x":224,"y":36.16},{"s":78,"x":229,"y":36.16},{"s":78,"x":230,"y":36.02},{"s":78,"x":239,"y":35.99},{"s":78,"x":240,"y":41.09},{"s":78,"x":241,"y":41.27},{"s":78,"x":242,"y":41.3},{"s":78,"x":243,"y":40.72},{"s":78,"x":244,"y":40.63},{"s":78,"x":245,"y":40.37},{"s":78,"x":246,"y":40.02},{"s":78,"x":247,"y":40.37},{"s":78,"x":248,"y":40.63},{"s":78,"x":249,"y":40.81},{"s":78,"x":250,"y":40.46},{"s":78,"x":251,"y":40.63},{"s":78,"x":252,"y":40.9},{"s":78,"x":253,"y":45.3},{"s":78,"x":254,"y":45.74},{"s":78,"x":255,"y":45.39},{"s":78,"x":256,"y":45.48},{"s":78,"x":257,"y":45.21},{"s":78,"x":259,"y":45.39},{"s":78,"x":260,"y":46.18},{"s":78,"x":261,"y":45.74},{"s":78,"x":262,"y":45.56},{"s":78,"x":263,"y":45.92},{"s":78,"x":265,"y":48.2},{"s":78,"x":266,"y":48.38},{"s":78,"x":267,"y":47.46},{"s":78,"x":268,"y":47.85},{"s":78,"x":269,"y":47.5},{"s":78,"x":270,"y":47.15},{"s":78,"x":271,"y":46.8},{"s":78,"x":272,"y":47.64},{"s":78,"x":273,"y":47.59},{"s":78,"x":274,"y":46.36},{"s":78,"x":275,"y":46.36},{"s":78,"x":276,"y":47.59},{"s":78,"x":277,"y":48.52},{"s":78,"x":278,"y":48.56},{"s":78,"x":279,"y":47.85},{"s":78,"x":280,"y":47.06},{"s":78,"x":281,"y":46.36},{"s":78,"x":282,"y":45.74},{"s":78,"x":283,"y":47.41},{"s":78,"x":284,"y":48.47},{"s":78,"x":285,"y":48.03},{"s":78,"x":286,"y":46.27},{"s":78,"x":287,"y":46.36},{"s":78,"x":288,"y":47.06},{"s":78,"x":289,"y":47.68},
{"s":79,"x":1,"y":42.6},{"s":79,"x":2,"y":42.0},{"s":79,"x":3,"y":41.5},{"s":79,"x":4,"y":41.85},{"s":79,"x":5,"y":41.6},{"s":79,"x":6,"y":40.8},{"s":79,"x":7,"y":41.8},{"s":79,"x":8,"y":42.3},{"s":79,"x":9,"y":41.9},{"s":79,"x":10,"y":41.2},{"s":79,"x":11,"y":40.92},{"s":79,"x":12,"y":41.5},{"s":79,"x":13,"y":42.0},{"s":79,"x":14,"y":42.0},{"s":79,"x":15,"y":41.45},{"s":79,"x":16,"y":41.3},{"s":79,"x":17,"y":41.0},{"s":79,"x":18,"y":40.65},{"s":79,"x":19,"y":41.3},{"s":79,"x":20,"y":41.45},{"s":79,"x":21,"y":41.0},{"s":79,"x":22,"y":40.8},{"s":79,"x":23,"y":40.65},{"s":79,"x":24,"y":41.2},{"s":79,"x":25,"y":41.45},{"s":79,"x":26,"y":41.3},{"s":79,"x":27,"y":41.09},{"s":79,"x":28,"y":41.18},{"s":79,"x":29,"y":40.7},{"s":79,"x":30,"y":40.56},{"s":79,"x":31,"y":40.9},{"s":79,"x":32,"y":41.0},{"s":79,"x":33,"y":40.8},{"s":79,"x":34,"y":40.65},{"s":79,"x":35,"y":40.74},{"s":79,"x":37,"y":41.0},{"s":79,"x":38,"y":40.9},{"s":79,"x":39,"y":40.92},{"s":79,"x":40,"y":40.9},{"s":79,"x":41,"y":40.74},{"s":79,"x":43,"y":41.09},{"s":79,"x":44,"y":40.92},{"s":79,"x":45,"y":40.92},{"s":79,"x":46,"y":40.7},{"s":79,"x":47,"y":40.8},{"s":79,"x":48,"y":41.05},{"s":79,"x":49,"y":41.0},{"s":79,"x":50,"y":41.0},{"s":79,"x":52,"y":40.8},{"s":79,"x":53,"y":40.6},{"s":79,"x":54,"y":40.48},{"s":79,"x":55,"y":40.9},{"s":79,"x":56,"y":41.27},{"s":79,"x":57,"y":41.0},{"s":79,"x":58,"y":40.92},{"s":79,"x":59,"y":41.2},{"s":79,"x":60,"y":39.4},{"s":79,"x":61,"y":39.2},{"s":79,"x":62,"y":38.57},{"s":79,"x":63,"y":38.6},{"s":79,"x":65,"y":38.54},{"s":79,"x":67,"y":38.8},{"s":79,"x":69,"y":38.65},{"s":79,"x":70,"y":38.57},{"s":79,"x":71,"y":38.8},{"s":79,"x":72,"y":37.5},{"s":79,"x":73,"y":37.0},{"s":79,"x":74,"y":36.5},{"s":79,"x":77,"y":36.4},{"s":79,"x":80,"y":36.55},{"s":79,"x":83,"y":36.5},{"s":79,"x":84,"y":35.8},{"s":79,"x":85,"y":35.4},{"s":79,"x":86,"y":35.05},{"s":79,"x":89,"y":35.02},{"s":79,"x":92,"y":35.1},{"s":79,"x":95,"y":35.1},{"s":79,"x":96,"y":34.9},{"s":79,"x":97,"y":34.67},{"s":79,"x":98,"y":34.85},{"s":79,"x":99,"y":34.0},{"s":79,"x":103,"y":34.0},{"s":79,"x":108,"y":34.05},{"s":79,"x":109,"y":33.85},{"s":79,"x":110,"y":33.64},{"s":79,"x":120,"y":33.64},{"s":79,"x":121,"y":34.14},{"s":79,"x":124,"y":34.18},{"s":79,"x":127,"y":34.2},{"s":79,"x":130,"y":34.2},{"s":79,"x":132,"y":34.05},{"s":79,"x":133,"y":34.14},{"s":79,"x":134,"y":34.84},{"s":79,"x":136,"y":34.88},{"s":79,"x":138,"y":34.74},{"s":79,"x":140,"y":34.8},{"s":79,"x":141,"y":34.93},{"s":79,"x":143,"y":34.8},{"s":79,"x":144,"y":34.62},{"s":79,"x":145,"y":34.82},{"s":79,"x":146,"y":34.88},{"s":79,"x":147,"y":34.93},{"s":79,"x":150,"y":34.88},{"s":79,"x":152,"y":35.04},{"s":79,"x":155,"y":34.97},{"s":79,"x":157,"y":35.1},{"s":79,"x":160,"y":35.13},{"s":79,"x":167,"y":35.17},{"s":79,"x":169,"y":35.46},{"s":79,"x":175,"y":35.46},{"s":79,"x":179,"y":35.37},{"s":79,"x":180,"y":36.99},{"s":79,"x":181,"y":37.27},{"s":79,"x":183,"y":37.27},{"s":79,"x":185,"y":37.04},{"s":79,"x":187,"y":37.22},{"s":79,"x":189,"y":37.2},{"s":79,"x":190,"y":37.04},{"s":79,"x":191,"y":37.27},{"s":79,"x":193,"y":37.48},{"s":79,"x":194,"y":37.39},{"s":79,"x":195,"y":37.45},{"s":79,"x":196,"y":37.35},{"s":79,"x":197,"y":37.1},{"s":79,"x":198,"y":37.13},{"s":79,"x":199,"y":37.34},{"s":79,"x":201,"y":37.27},{"s":79,"x":202,"y":37.17},{"s":79,"x":204,"y":37.34},{"s":79,"x":206,"y":37.45},{"s":79,"x":208,"y":37.43},{"s":79,"x":209,"y":37.27},{"s":79,"x":211,"y":37.57},{"s":79,"x":213,"y":37.5},{"s":79,"x":214,"y":37.34},{"s":79,"x":216,"y":37.61},{"s":79,"x":217,"y":37.75},{"s":79,"x":218,"y":37.66},{"s":79,"x":219,"y":37.75},{"s":79,"x":221,"y":37.57},{"s":79,"x":223,"y":37.97},{"s":79,"x":224,"y":37.83},{"s":79,"x":226,"y":38.01},{"s":79,"x":227,"y":38.01},{"s":79,"x":228,"y":39.6},{"s":79,"x":229,"y":39.72},{"s":79,"x":231,"y":39.28},{"s":79,"x":232,"y":38.86},{"s":79,"x":233,"y":38.36},{"s":79,"x":234,"y":38.63},{"s":79,"x":235,"y":39.07},{"s":79,"x":236,"y":38.71},{"s":79,"x":237,"y":38.6},{"s":79,"x":238,"y":38.54},{"s":79,"x":239,"y":38.4},{"s":79,"x":240,"y":38.57},{"s":79,"x":241,"y":38.71},{"s":79,"x":242,"y":38.43},{"s":79,"x":244,"y":38.3},{"s":79,"x":246,"y":38.17},{"s":79,"x":247,"y":38.35},{"s":79,"x":248,"y":38.38},{"s":79,"x":249,"y":38.52},{"s":79,"x":250,"y":38.43},{"s":79,"x":251,"y":38.47},{"s":79,"x":252,"y":38.78},{"s":79,"x":253,"y":40.99},{"s":79,"x":254,"y":41.6},{"s":79,"x":255,"y":40.9},{"s":79,"x":256,"y":40.81},{"s":79,"x":258,"y":39.75},{"s":79,"x":259,"y":40.46},{"s":79,"x":260,"y":41.25},{"s":79,"x":261,"y":40.63},{"s":79,"x":262,"y":40.02},{"s":79,"x":263,"y":40.3},{"s":79,"x":264,"y":40.6},{"s":79,"x":265,"y":40.81},{"s":79,"x":266,"y":40.99},{"s":79,"x":267,"y":40.46},{"s":79,"x":268,"y":40.63},{"s":79,"x":269,"y":40.46},{"s":79,"x":270,"y":40.02},{"s":79,"x":271,"y":40.72},{"s":79,"x":272,"y":41.43},{"s":79,"x":273,"y":40.99},{"s":79,"x":274,"y":40.63},{"s":79,"x":275,"y":40.72},{"s":79,"x":276,"y":41.2},{"s":79,"x":277,"y":41.34},{"s":79,"x":278,"y":40.81},{"s":79,"x":279,"y":41.0},{"s":79,"x":280,"y":41.25},{"s":79,"x":281,"y":40.9},{"s":79,"x":282,"y":40.37},{"s":79,"x":283,"y":41.15},{"s":79,"x":284,"y":42.13},{"s":79,"x":285,"y":41.6},{"s":79,"x":286,"y":40.99},{"s":79,"x":287,"y":40.9},{"s":79,"x":288,"y":41.6},{"s":79,"x":289,"y":44.24},
{"s":80,"x":1,"y":43.2},{"s":80,"x":2,"y":42.7},{"s":80,"x":3,"y":42.5},{"s":80,"x":4,"y":42.4},{"s":80,"x":5,"y":42.3},{"s":80,"x":6,"y":42.0},{"s":80,"x":7,"y":42.5},{"s":80,"x":8,"y":42.8},{"s":80,"x":9,"y":42.4},{"s":80,"x":10,"y":42.0},{"s":80,"x":11,"y":41.8},{"s":80,"x":12,"y":42.1},{"s":80,"x":13,"y":42.2},{"s":80,"x":14,"y":42.2},{"s":80,"x":15,"y":41.95},{"s":80,"x":16,"y":41.8},{"s":80,"x":17,"y":41.6},{"s":80,"x":18,"y":41.45},{"s":80,"x":19,"y":41.8},{"s":80,"x":20,"y":42.15},{"s":80,"x":21,"y":41.7},{"s":80,"x":22,"y":41.6},{"s":80,"x":23,"y":41.6},{"s":80,"x":24,"y":41.88},{"s":80,"x":25,"y":41.8},{"s":80,"x":26,"y":41.6},{"s":80,"x":27,"y":41.44},{"s":80,"x":28,"y":41.3},{"s":80,"x":29,"y":41.1},{"s":80,"x":30,"y":41.0},{"s":80,"x":31,"y":41.2},{"s":80,"x":32,"y":41.44},{"s":80,"x":33,"y":41.2},{"s":80,"x":34,"y":40.92},{"s":80,"x":35,"y":41.1},{"s":80,"x":36,"y":41.27},{"s":80,"x":37,"y":41.2},{"s":80,"x":38,"y":41.23},{"s":80,"x":39,"y":41.2},{"s":80,"x":40,"y":41.1},{"s":80,"x":41,"y":40.83},{"s":80,"x":42,"y":41.0},{"s":80,"x":43,"y":41.27},{"s":80,"x":44,"y":41.2},{"s":80,"x":45,"y":41.0},{"s":80,"x":46,"y":41.0},{"s":80,"x":47,"y":41.2},{"s":80,"x":48,"y":41.3},{"s":80,"x":49,"y":41.27},{"s":80,"x":50,"y":41.27},{"s":80,"x":51,"y":41.3},{"s":80,"x":52,"y":41.25},{"s":80,"x":53,"y":41.1},{"s":80,"x":54,"y":41.2},{"s":80,"x":55,"y":41.3},{"s":80,"x":56,"y":41.3},{"s":80,"x":57,"y":41.1},{"s":80,"x":58,"y":41.1},{"s":80,"x":59,"y":41.35},{"s":80,"x":60,"y":39.5},{"s":80,"x":61,"y":39.42},{"s":80,"x":63,"y":39.4},{"s":80,"x":65,"y":39.2},{"s":80,"x":67,"y":39.35},{"s":80,"x":68,"y":39.42},{"s":80,"x":70,"y":39.2},{"s":80,"x":71,"y":39.42},{"s":80,"x":72,"y":38.0},{"s":80,"x":73,"y":38.0},{"s":80,"x":74,"y":37.66},{"s":80,"x":76,"y":37.6},{"s":80,"x":77,"y":37.57},{"s":80,"x":79,"y":37.75},{"s":80,"x":81,"y":37.7},{"s":80,"x":83,"y":37.66},{"s":80,"x":84,"y":37.2},{"s":80,"x":85,"y":36.87},{"s":80,"x":86,"y":35.99},{"s":80,"x":88,"y":36.07},{"s":80,"x":90,"y":36.16},{"s":80,"x":93,"y":36.12},{"s":80,"x":95,"y":36.07},{"s":80,"x":96,"y":35.9},{"s":80,"x":97,"y":35.63},{"s":80,"x":98,"y":35.6},{"s":80,"x":99,"y":34.88},{"s":80,"x":107,"y":34.88},{"s":80,"x":108,"y":34.7},{"s":80,"x":109,"y":34.75},{"s":80,"x":110,"y":33.7},{"s":80,"x":122,"y":33.64},{"s":80,"x":131,"y":33.64},{"s":80,"x":132,"y":33.79},{"s":80,"x":133,"y":35.51},{"s":80,"x":135,"y":35.51},{"s":80,"x":136,"y":35.4},{"s":80,"x":138,"y":35.4},{"s":80,"x":140,"y":35.55},{"s":80,"x":141,"y":35.55},{"s":80,"x":143,"y":35.33},{"s":80,"x":144,"y":35.1},{"s":80,"x":145,"y":35.33},{"s":80,"x":147,"y":35.28},{"s":80,"x":148,"y":35.37},{"s":80,"x":149,"y":35.16},{"s":80,"x":151,"y":35.51},{"s":80,"x":153,"y":35.33},{"s":80,"x":154,"y":35.33},{"s":80,"x":155,"y":35.6},{"s":80,"x":157,"y":35.69},{"s":80,"x":161,"y":35.73},{"s":80,"x":164,"y":35.76},{"s":80,"x":167,"y":35.76},{"s":80,"x":168,"y":35.99},{"s":80,"x":172,"y":35.99},{"s":80,"x":174,"y":35.95},{"s":80,"x":176,"y":36.05},{"s":80,"x":178,"y":36.16},{"s":80,"x":179,"y":36.16},{"s":80,"x":180,"y":39.3},{"s":80,"x":181,"y":39.3},{"s":80,"x":182,"y":38.98},{"s":80,"x":183,"y":38.98},{"s":80,"x":185,"y":38.36},{"s":80,"x":187,"y":38.75},{"s":80,"x":188,"y":38.45},{"s":80,"x":190,"y":38.0},{"s":80,"x":191,"y":38.1},{"s":80,"x":192,"y":39.28},{"s":80,"x":193,"y":39.1},{"s":80,"x":194,"y":38.71},{"s":80,"x":195,"y":38.71},{"s":80,"x":197,"y":38.36},{"s":80,"x":198,"y":38.36},{"s":80,"x":200,"y":38.63},{"s":80,"x":201,"y":38.36},{"s":80,"x":202,"y":38.15},{"s":80,"x":204,"y":38.36},{"s":80,"x":206,"y":38.4},{"s":80,"x":208,"y":38.27},{"s":80,"x":209,"y":38.22},{"s":80,"x":211,"y":38.57},{"s":80,"x":213,"y":38.4},{"s":80,"x":214,"y":38.33},{"s":80,"x":216,"y":38.71},{"s":80,"x":217,"y":38.92},{"s":80,"x":218,"y":39.16},{"s":80,"x":219,"y":38.9},{"s":80,"x":220,"y":38.9},{"s":80,"x":221,"y":38.57},{"s":80,"x":223,"y":39.5},{"s":80,"x":224,"y":39.68},{"s":80,"x":225,"y":39.2},{"s":80,"x":226,"y":39.5},{"s":80,"x":227,"y":39.8},{"s":80,"x":228,"y":42.41},{"s":80,"x":229,"y":42.94},{"s":80,"x":230,"y":42.27},{"s":80,"x":231,"y":42.27},{"s":80,"x":232,"y":41.71},{"s":80,"x":233,"y":41.18},{"s":80,"x":234,"y":41.88},{"s":80,"x":235,"y":42.55},{"s":80,"x":236,"y":42.15},{"s":80,"x":237,"y":41.5},{"s":80,"x":238,"y":41.27},{"s":80,"x":239,"y":41.62},{"s":80,"x":240,"y":41.92},{"s":80,"x":241,"y":41.92},{"s":80,"x":242,"y":41.8},{"s":80,"x":243,"y":41.6},{"s":80,"x":244,"y":41.51},{"s":80,"x":245,"y":41.3},{"s":80,"x":246,"y":41.25},{"s":80,"x":247,"y":42.3},{"s":80,"x":248,"y":42.1},{"s":80,"x":249,"y":41.51},{"s":80,"x":250,"y":41.48},{"s":80,"x":251,"y":41.5},{"s":80,"x":252,"y":42.04},{"s":80,"x":253,"y":49.96},{"s":80,"x":254,"y":50.0},{"s":80,"x":255,"y":48.2},{"s":80,"x":256,"y":46.7},{"s":80,"x":257,"y":45.21},{"s":80,"x":258,"y":44.68},{"s":80,"x":259,"y":45.39},{"s":80,"x":260,"y":46.18},{"s":80,"x":261,"y":45.74},{"s":80,"x":262,"y":44.77},{"s":80,"x":263,"y":44.86},{"s":80,"x":264,"y":45.56},{"s":80,"x":265,"y":46.09},{"s":80,"x":266,"y":46.09},{"s":80,"x":267,"y":45.56},{"s":80,"x":268,"y":45.48},{"s":80,"x":269,"y":45.3},{"s":80,"x":270,"y":44.9},{"s":80,"x":271,"y":45.0},{"s":80,"x":272,"y":46.09},{"s":80,"x":273,"y":45.8},{"s":80,"x":274,"y":44.95},{"s":80,"x":275,"y":45.12},{"s":80,"x":276,"y":45.7},{"s":80,"x":277,"y":45.75},{"s":80,"x":278,"y":45.88},{"s":80,"x":279,"y":45.39},{"s":80,"x":280,"y":45.48},{"s":80,"x":281,"y":45.21},{"s":80,"x":282,"y":44.42},{"s":80,"x":283,"y":45.04},{"s":80,"x":284,"y":46.18},{"s":80,"x":285,"y":45.88},{"s":80,"x":286,"y":45.04},{"s":80,"x":287,"y":44.95},{"s":80,"x":288,"y":45.65},{"s":80,"x":289,"y":47.15}
]
},
"layer":[
{"data":{"values":[{}]},
 "mark":{"type":"rect","fill":"#969696"},
 "encoding":{"x":{"datum":3.42,"type":"quantitative","title":null},"x2":{"datum":71.85},"y":{"datum":73.68,"type":"quantitative","title":null},"y2":{"datum":51.93}}},
{"data":{"name":"notes"},
 "mark":{"type":"text","align":"left","baseline":"middle","fontSize":27,"font":"Liberation Sans"},
 "encoding":{"x":{"datum":4.63,"type":"quantitative","title":null},"y":{"field":"y","type":"quantitative","title":null},"text":{"field":"t"},"color":{"field":"s","type":"nominal"}}},
{"data":{"values":[{"t":"73-80: Long Term Contract"}]},
 "mark":{"type":"text","align":"left","baseline":"middle","fontSize":27,"font":"Liberation Sans","color":"#000000"},
 "encoding":{"x":{"datum":4.63,"type":"quantitative","title":null},"y":{"datum":54.6,"type":"quantitative","title":null},"text":{"field":"t"}}},
{"data":{"name":"series"},
 "mark":{"type":"line","strokeWidth":3},
 "encoding":{
  "x":{"field":"x","type":"quantitative","title":null,"scale":{"domain":[1,289],"nice":false,"zero":false},
       "axis":{"values":[1,13,25,37,49,61,73,85,97,109,121,133,145,157,169,181,193,205,217,229,241,253,265,277],"labelAngle":-90,"labelPadding":9,"grid":true}},
  "y":{"field":"y","type":"quantitative","title":null,"scale":{"domain":[20,75],"nice":false,"zero":false},
       "axis":{"values":[20,30,40,50,60,70],"labelPadding":12,"grid":true,"labelFontSize":21}},
  "color":{"field":"s","type":"nominal",
   "scale":{"domain":[73,74,75,76,77,78,79,80],"range":["#000080","#800080","#FFFF00","#00FFFF","#00FF00","#FF0000","#FF9900","#FFFFFF"]},
   "legend":{"orient":"none","legendX":1776,"legendY":-18,"direction":"vertical","symbolType":"stroke","symbolSize":2500,"symbolStrokeWidth":3,
     "labelFont":"Liberation Sans","labelFontSize":20,"labelColor":"#ffffff","labelOffset":2,"rowPadding":110,"padding":14,
     "fillColor":"#808080","strokeColor":"#404040","labelExpr":"'SC-' + datum.label",
     "title":"SC-00","titleColor":"#808080","titleOrient":"bottom","titleFontSize":20,"titleFontWeight":"normal","titlePadding":30}}
 }}
]
}
